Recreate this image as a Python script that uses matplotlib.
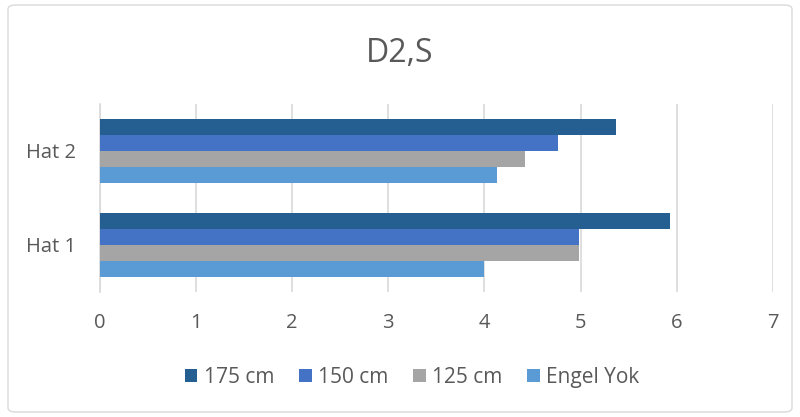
import numpy as np
import matplotlib.pyplot as plt
from matplotlib.patches import FancyBboxPatch

plt.rcParams['font.family'] = ['Open Sans', 'DejaVu Sans']

categories = ["Hat 1", "Hat 2"]
series_names = ["175 cm", "150 cm", "125 cm", "Engel Yok"]
values_175 = [5.93, 5.37]
values_150 = [4.98, 4.77]
values_125 = [4.98, 4.42]
values_engel = [4.00, 4.13]
colors = ["#255E91", "#4472C4", "#A5A5A5", "#5B9BD5"]

fig = plt.figure(figsize=(8, 4.17), dpi=100)
ax = fig.add_axes([0.125, 0.2998, 0.841, 0.4508])

y = np.arange(len(categories))
h = 0.17
offsets = [1.5 * h, 0.5 * h, -0.5 * h, -1.5 * h]
all_values = [values_175, values_150, values_125, values_engel]
for vals, off, col, name in zip(all_values, offsets, colors, series_names):
    ax.barh(y + off, vals, height=h, color=col, label=name, zorder=3)

ax.set_xlim(0, 7)
ax.set_ylim(-0.5, 1.5)
ax.set_xticks(range(8))
ax.set_yticks(y)
ax.set_yticklabels(categories)
ax.grid(axis='x', color='#D9D9D9', linewidth=1.2, zorder=0)
for s in ['top', 'right', 'bottom']:
    ax.spines[s].set_visible(False)
ax.spines['left'].set_color('#D9D9D9')
ax.spines['left'].set_linewidth(1.2)
ax.tick_params(axis='both', length=0, labelsize=14.5, colors='#595959')
ax.tick_params(axis='x', pad=15)
ax.tick_params(axis='y', pad=17)

fig.text(0.5, 0.872, "D2,S", ha='center', va='center', fontsize=23, color='#595959')

leg = fig.legend(loc='center', bbox_to_anchor=(0.515, 0.095), ncol=4, frameon=False,
                 fontsize=15, handlelength=0.6, handleheight=0.6,
                 handletextpad=0.3, columnspacing=1.2)
for t in leg.get_texts():
    t.set_color('#595959')

# light frame round the whole chart
frame = FancyBboxPatch((0.01, 0.012), 0.98, 0.976, boxstyle="round,pad=0,rounding_size=0.01",
                       transform=fig.transFigure, fill=False, edgecolor='#D9D9D9', linewidth=1)
fig.patches.append(frame)

fig.savefig("out.png", dpi=100)
